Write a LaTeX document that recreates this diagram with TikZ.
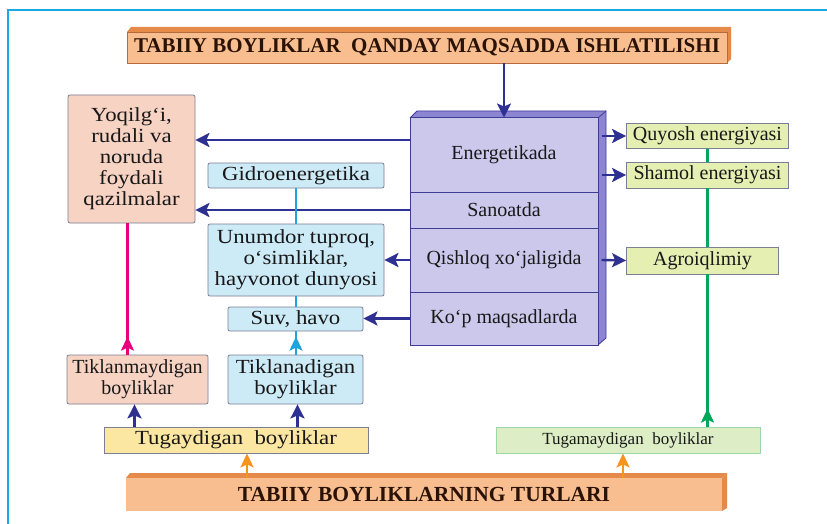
\documentclass[tikz,border=0pt]{standalone}
\usepackage{fontspec}
\setmainfont{Liberation Serif}
\newfontfamily\widefont{Liberation Serif}[FakeStretch=1.14]
\usetikzlibrary{arrows.meta,decorations.markings}
\definecolor{framecol}{HTML}{1AA7E6}
\definecolor{orgfill}{HTML}{F9BE8F}
\definecolor{orgdark}{HTML}{E58A48}
\definecolor{orgline}{HTML}{B8693A}
\definecolor{titletext}{HTML}{2A1206}
\definecolor{purpfill}{HTML}{CCC8EC}
\definecolor{purpside}{HTML}{8C86D2}
\definecolor{purpline}{HTML}{3E3C94}
\definecolor{salmon}{HTML}{F7D3C3}
\definecolor{ltblue}{HTML}{CDEAF7}
\definecolor{ltgreen}{HTML}{E5EFB2}
\definecolor{ltgreen2}{HTML}{DDEEC6}
\definecolor{yell}{HTML}{FBE7A2}
\definecolor{boxline}{HTML}{7C7E96}
\definecolor{arrblue}{HTML}{2E3192}
\definecolor{magline}{HTML}{E6007E}
\definecolor{cyanline}{HTML}{1FA4DE}
\definecolor{grnline}{HTML}{00A65A}
\definecolor{orgarrow}{HTML}{F7941D}
\definecolor{txt}{HTML}{181818}
\begin{document}
\begin{tikzpicture}[x=1pt,y=-1pt,
  box/.style={draw=boxline, line width=0.8pt, rounded corners=2pt, inner sep=0pt,
    align=center, text=txt, font=\widefont\fontsize{20}{21}\selectfont},
  rbox/.style={draw=boxline, fill=ltgreen, line width=0.8pt, inner sep=0pt,
    align=center, text=txt, font=\fontsize{20}{21}\selectfont},
  purp/.style={draw=purpline, fill=purpfill, line width=1pt, inner sep=0pt,
    align=center, text=txt, font=\fontsize{20}{21}\selectfont, minimum width=188pt},
  bigtitle/.style={fill=orgfill, draw=orgline, line width=0.6pt, inner sep=0pt,
    text=titletext, font=\bfseries\fontsize{21}{22}\selectfont},
  barr/.style={draw=arrblue, line width=2.4pt, -{Stealth[length=14pt,width=14pt,inset=3pt]}},
  oarr/.style={draw=orgarrow, line width=2.4pt, -{Stealth[length=14pt,width=13pt,inset=3pt]}},
  vline/.style={line width=2.4pt},
  uparrow/.style={line width=2.4pt, postaction={decorate},
    decoration={markings, mark=at position 18pt with {\arrow{Stealth[length=14pt,width=13pt,inset=3pt]}}}}
]
\useasboundingbox (0,0) rectangle (827,524);
\clip (0,0) rectangle (827,524);
\fill[white] (0,0) rectangle (827,524);
\draw[framecol, line width=2.5pt] (8,540) -- (8,10) -- (840,10);

% title
\fill[orgdark] (127,32) -- (131,27) -- (731,27) -- (731,59) -- (727,63) -- cycle;
\node[bigtitle, minimum width=600pt, minimum height=31pt] (title) at (427,47.5)
  {TABIIY BOYLIKLAR\ \ QANDAY MAQSADDA ISHLATILISHI};

% purple block
\fill[purpside] (410,118) -- (417,111) -- (606,111) -- (598,118) -- cycle;
\fill[purpside] (598,118) -- (606,111) -- (606,338) -- (598,345) -- cycle;
\draw[purpline, line width=0.8pt] (410,118) -- (417,111) -- (606,111) -- (606,338) -- (598,345);
\draw[purpline, line width=0.8pt] (598,118) -- (606,111);
\node[purp, minimum height=74pt] (en) at (504,155) {Energetikada};
\node[purp, minimum height=36pt] (san) at (504,210) {Sanoatda};
\node[purp, minimum height=64pt] (qish) at (504,260) {Qishloq xo‘jaligida};
\node[purp, minimum height=53pt] (kop) at (504,318.5) {Ko‘p maqsadlarda};

% left boxes
\node[box, fill=salmon, minimum width=127pt, minimum height=128pt] (yoq) at (131.5,159)
  {Yoqilg‘i,\\rudali va\\noruda\\foydali\\qazilmalar};
\node[box, fill=ltblue, minimum width=176pt, minimum height=25pt] (gid) at (296,175.5) {Gidroenergetika};
\node[box, fill=ltblue, minimum width=176pt, minimum height=72pt] (unu) at (296,260)
  {Unumdor tuproq,\\o‘simliklar,\\hayvonot dunyosi};
\node[box, fill=ltblue, minimum width=135pt, minimum height=24pt] (suv) at (295.5,319) {Suv, havo};
\node[box, fill=salmon, minimum width=141pt, minimum height=49pt,
  font=\fontsize{20}{21}\selectfont] (tikm) at (137.5,379.5)
  {Tiklanmaydigan\\boyliklar};
\node[box, fill=ltblue, minimum width=135pt, minimum height=49pt] (tika) at (295.5,379.5)
  {Tiklanadigan\\boyliklar};
\node[box, fill=yell, rounded corners=0pt, minimum width=264pt, minimum height=26pt] (tug) at (236,440)
  {Tugaydigan\ \ boyliklar};
\node[box, draw=ltgreen2!70!grnline, fill=ltgreen2, rounded corners=0pt, minimum width=264pt, minimum height=26pt,
  font=\fontsize{17}{18}\selectfont] (tugm) at (628,440) {Tugamaydigan\ \ boyliklar};

% right boxes
\node[rbox, minimum width=162pt, minimum height=25pt] (quy) at (707.5,136) {Quyosh energiyasi};
\node[rbox, minimum width=162pt, minimum height=26pt] (sham) at (707.5,175) {Shamol energiyasi};
\node[rbox, minimum width=152pt, minimum height=27pt] (agro) at (702.5,260.5) {Agroiqlimiy};

% bottom title
\fill[orgdark] (126,478) -- (130,473) -- (727,473) -- (722,478) -- cycle;
\fill[orgdark] (722,478) -- (727,473) -- (727,508) -- (722,511) -- cycle;
\node[bigtitle, draw=none, minimum width=596pt, minimum height=33pt,
  font=\bfseries\fontsize{21.5}{22}\selectfont] (bot) at (424,494.5)
  {TABIIY BOYLIKLARNING TURLARI};

% connectors
\draw[barr] (title.south -| en.north) -- (en.north);
\draw[barr] ([yshift=15pt]en.west) -- ([yshift=15pt]en.west -| yoq.east);
\draw[barr] (san.west) -- (san.west -| yoq.east);
\draw[barr] (qish.west) -- (qish.west -| unu.east);
\draw[barr] (kop.west) -- (kop.west -| suv.east);
\draw[barr] ([xshift=3pt]en.east |- quy.west) -- (quy.west);
\draw[barr] ([xshift=3pt]en.east |- sham.west) -- (sham.west);
\draw[barr] ([xshift=3pt]qish.east) -- (agro.west);

\draw[cyanline, vline] (gid.south) -- (gid.south |- unu.north);
\draw[cyanline, vline] (gid.south |- unu.south) -- (gid.south |- suv.north);
\draw[cyanline, uparrow] (gid.south |- tika.north) -- (gid.south |- suv.south);
\draw[magline, uparrow] ([xshift=-4pt]yoq.south |- tikm.north) -- ([xshift=-4pt]yoq.south);
\draw[grnline, vline] (quy.south) -- (quy.south |- sham.north);
\draw[grnline, vline] (sham.south) -- (sham.south |- agro.north);
\draw[grnline, uparrow] (quy.south |- tugm.north) -- (quy.south |- agro.south);

\draw[barr] ([xshift=-3pt]tikm.south |- tug.north) -- ([xshift=-3pt]tikm.south);
\draw[barr] ([xshift=2pt]tika.south |- tug.north) -- ([xshift=2pt]tika.south);
\draw[oarr] ([xshift=11pt]tug.south |- bot.north) -- ([xshift=11pt]tug.south);
\draw[oarr] ([xshift=-5pt]tugm.south |- bot.north) -- ([xshift=-5pt]tugm.south);
\end{tikzpicture}
\end{document}
